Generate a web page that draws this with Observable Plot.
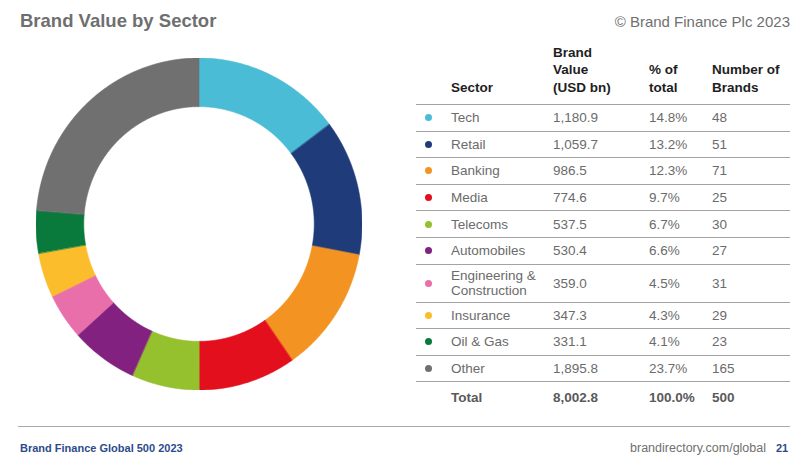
<!DOCTYPE html>
<html>
<head>
<meta charset="utf-8">
<script src="https://cdn.jsdelivr.net/npm/d3@7"></script>
<script src="https://cdn.jsdelivr.net/npm/@observablehq/plot@0.6"></script>
<style>
  html, body { margin: 0; padding: 0; background: #fff; }
  body { width: 800px; height: 463px; position: relative; overflow: hidden;
         font-family: "Liberation Sans", Arial, Helvetica, sans-serif; }
  .abs { position: absolute; line-height: 1; white-space: nowrap; }
  #title { left: 20px; top: 11.5px; font-size: 18.5px; font-weight: bold; color: #6f6f6f; }
  #copy { right: 10px; top: 14px; font-size: 15px; color: #707070; }
  #donut { position: absolute; left: 36px; top: 58px; }
  #table { position: absolute; left: 416px; top: 40px; width: 374px; }
  .row { display: grid; grid-template-columns: 35px 102px 96px 63px 78px; box-sizing: border-box;
         align-items: center; font-size: 13.5px; color: #6b6b6b; }
  .row.data, .row.total { border-top: 1.5px solid #a3a3a3; }
  .row.head { height: 64px; align-items: end; font-weight: bold; color: #1e1e1e; line-height: 17.5px; padding-bottom: 8px; }
  .row.total { font-weight: bold; color: #5a5a5a; height: 31px; }
  .dot { width: 7px; height: 7px; border-radius: 50%; margin-left: 8.5px; }
  .sector { line-height: 15px; }
  #footline { position: absolute; left: 18px; top: 425.5px; width: 772px; height: 0; border-top: 1.5px solid #a8a8a8; }
  #footL { left: 20px; top: 442.5px; font-size: 11px; font-weight: bold; color: #2d4b8c; }
  #footR { right: 34px; top: 441.5px; font-size: 12.5px; color: #707070; }
  #page { left: 776px; top: 442.5px; font-size: 11px; font-weight: bold; color: #2d4b8c; }
</style>
</head>
<body>
<div id="title" class="abs">Brand Value by Sector</div>
<div id="copy" class="abs">© Brand Finance Plc 2023</div>
<div id="donut"></div>
<div id="table"></div>
<div id="footline"></div>
<div id="footL" class="abs">Brand Finance Global 500 2023</div>
<div id="footR" class="abs">brandirectory.com/global</div>
<div id="page" class="abs">21</div>
<script>
// ---- data ----
const sectors = ["Tech", "Retail", "Banking", "Media", "Telecoms", "Automobiles",
  "Engineering & Construction", "Insurance", "Oil & Gas", "Other"];
const brandValue = [1180.9, 1059.7, 986.5, 774.6, 537.5, 530.4, 359.0, 347.3, 331.1, 1895.8];
const pctOfTotal = [14.8, 13.2, 12.3, 9.7, 6.7, 6.6, 4.5, 4.3, 4.1, 23.7];
const brandCount = [48, 51, 71, 25, 30, 27, 31, 29, 23, 165];
const sectorColors = ["#4bbcd6", "#1f3b7a", "#f39322", "#e30f1c", "#95c12f", "#82217f",
  "#e86fa9", "#fbbd2c", "#0a7a3c", "#707070"];
const headerLabels = ["Sector", "Brand\nValue\n(USD bn)", "% of\ntotal", "Number of\nBrands"];
const totalLabel = "Total";
const totalValue = 8002.8;
const totalPct = 100.0;
const totalCount = 500;

// ---- donut ----
const rows = sectors.map((s, i) => ({sector: s, value: brandValue[i]}));
const arcs = d3.pie().sort(null).value(d => d.value).startAngle(0).endAngle(2 * Math.PI)(rows);
const inner = 0.707;
const pts = [];
for (const a of arcs) {
  const n = Math.max(4, Math.ceil((a.endAngle - a.startAngle) / 0.005));
  for (let i = 0; i <= n; i++) {
    const t = a.startAngle + (a.endAngle - a.startAngle) * i / n;
    pts.push({sector: a.data.sector,
      xi: inner * Math.sin(t), yi: inner * Math.cos(t),
      xo: Math.sin(t), yo: Math.cos(t)});
  }
}
const donut = Plot.plot({
  width: 326, height: 332, margin: 0,
  x: {domain: [-1, 1], axis: null},
  y: {domain: [-1, 1], axis: null},
  color: {domain: sectors, range: sectorColors},
  marks: [
    Plot.area(pts, {x1: "xi", y1: "yi", x2: "xo", y2: "yo", z: "sector",
      fill: "sector", stroke: "sector", strokeWidth: 0.6})
  ]
});
document.getElementById("donut").appendChild(donut);

// ---- table ----
const fmtV = d3.format(",.1f");
const fmtP = v => d3.format(".1f")(v) + "%";
const tbl = document.getElementById("table");
const head = document.createElement("div");
head.className = "row head";
head.innerHTML = "<div></div>" + headerLabels.map(h => `<div>${h.split("\n").join("<br>")}</div>`).join("");
tbl.appendChild(head);
sectors.forEach((s, i) => {
  const r = document.createElement("div");
  r.className = "row data";
  r.style.height = (s.length > 20 ? 38 : 26.6) + "px";
  r.innerHTML = `<div><div class="dot" style="background:${sectorColors[i]}"></div></div>` +
    `<div class="sector">${s.replace("&", "&amp;")}</div><div>${fmtV(brandValue[i])}</div>` +
    `<div>${fmtP(pctOfTotal[i])}</div><div>${brandCount[i]}</div>`;
  tbl.appendChild(r);
});
const tot = document.createElement("div");
tot.className = "row total";
tot.innerHTML = `<div></div><div>${totalLabel}</div><div>${fmtV(totalValue)}</div><div>${fmtP(totalPct)}</div><div>${totalCount}</div>`;
tbl.appendChild(tot);
</script>
</body>
</html>
